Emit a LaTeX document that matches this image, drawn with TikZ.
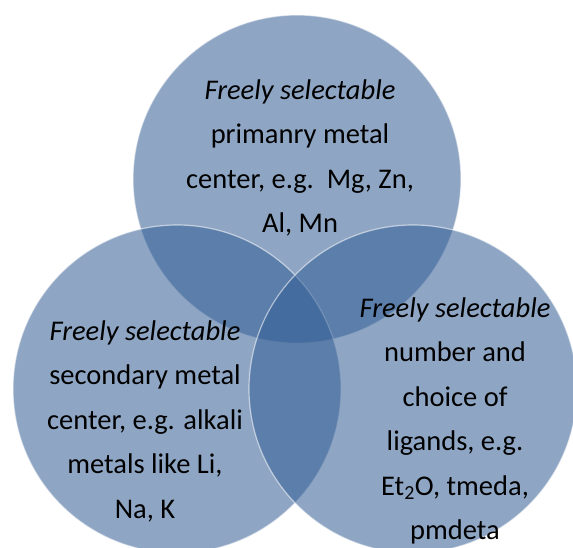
\documentclass[tikz,border=0pt]{standalone}
\usepackage{fontspec}
\setmainfont{Carlito}
\usepackage{xcolor}
\usepackage{tikz}
\usetikzlibrary{positioning}
\definecolor{vennblue}{RGB}{50,93,148}

\begin{document}
\begin{tikzpicture}[x=1pt, y=-1pt,
                    bubble/.style={circle, minimum size=328pt, inner sep=0pt,
                      fill=vennblue, fill opacity=0.55,
                      draw=white, draw opacity=0.55, line width=1.2pt},
                    venntext/.style={align=center, inner sep=0pt,
                      font=\fontsize{28.5}{44.5}\selectfont}]
\useasboundingbox (0,0) rectangle (573,547);
\clip (0,0) rectangle (573,547);
\foreach \name/\cx/\cy in {prim/297/179, sec/177/389, lig/413/389}
  \node[bubble] (\name) at (\cx,\cy) {};
\node[venntext] (primtext) at (300,158)
  {\textit{Freely selectable}\\ primanry metal\\ center, e.g.\ \ Mg, Zn,\\ Al, Mn};
\node[venntext] (sectext) at (145,421)
  {\textit{Freely selectable}\\ secondary metal\\ center, e.g. alkali\\ metals like Li,\\ Na, K};
\node[venntext] (ligtext) at (455,421)
  {\textit{Freely selectable}\\ number and\\ choice of\\ ligands, e.g.\\ Et\textsubscript{2}O, tmeda,\\ pmdeta};
\end{tikzpicture}
\end{document}
